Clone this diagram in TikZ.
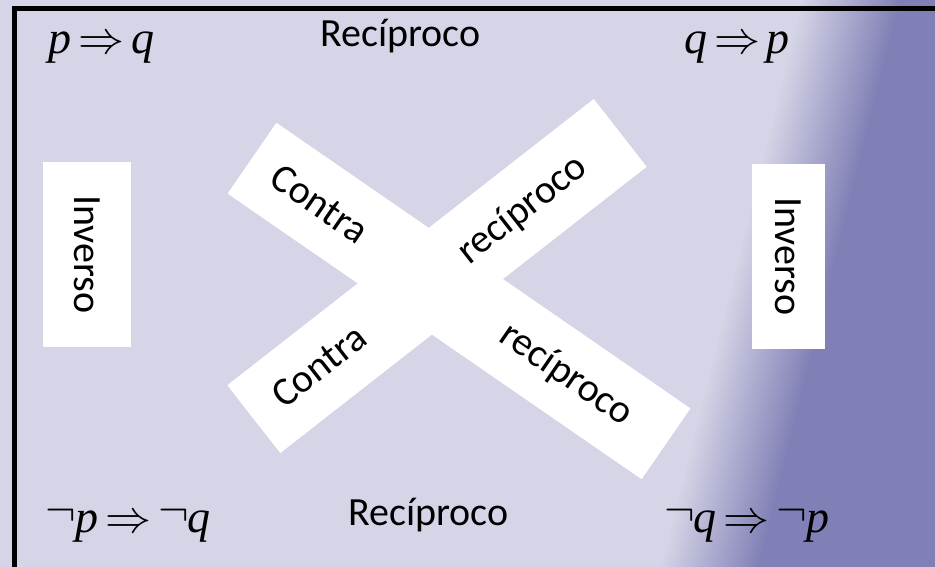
\RequirePackage{fix-cm}
\documentclass[tikz,border=0pt]{standalone}
\usepackage{fontspec}
\setmainfont{Carlito}
\newfontfamily\tms{Liberation Serif}

\definecolor{lav}{RGB}{213,213,231}
\definecolor{lavdark}{RGB}{199,199,223}
\definecolor{purp}{RGB}{129,128,182}

% soft diagonal sweep from lavender into purple
\pgfdeclarehorizontalshading{bgsweep}{100bp}{color(0bp)=(lav); color(49bp)=(lav); color(51bp)=(purp); color(100bp)=(purp)}

\newcommand\impl{\hspace{0.15em}$\Rightarrow$\hspace{0.15em}}
\newcommand\nt{\raisebox{7pt}{$\neg$}\kern-1pt}

\begin{document}
\begin{tikzpicture}[x=1pt,y=-1pt,
  whitebox/.style={fill=white, draw=none, inner sep=0pt},
  lbl/.style={font=\fontsize{40}{48}\selectfont, inner sep=0pt},
  formula/.style={font=\tms\itshape\fontsize{46}{50}\selectfont, inner sep=0pt, anchor=base}]
\useasboundingbox (0,0) rectangle (935,567);

% background
\fill[lav] (0,0) rectangle (935,567);
\begin{scope}
  \clip (0,0) rectangle (935,567);
  % faint clouds in the light area
  \shade[inner color=lavdark, outer color=lav] (30,300) ellipse (45 and 170);
  \shade[inner color=lavdark, outer color=lav] (160,110) ellipse (90 and 40);
  \shade[inner color=lavdark, outer color=lav] (520,470) ellipse (90 and 40);
  \begin{scope}[transform canvas={rotate around={-14:(780,283)}}]
    \shade[shading=bgsweep] (-420,-917) rectangle (1980,1483);
  \end{scope}
\end{scope}

% frame lines
\draw[line width=5pt] (14,575) -- (14,9) -- (945,9);

% the crossed bands
\node[whitebox, rotate=-34.6, minimum width=503pt, minimum height=86pt] (bandA) at (459,301) {};
\node[whitebox, rotate=38, minimum width=465pt, minimum height=86pt] (bandB) at (437,276) {};

\node[lbl, rotate=-34.6] (contraA) at (320,204) {Contra};
\node[lbl, rotate=38] (recipA) at (523,210) {recíproco};
\node[lbl, rotate=38] (contraB) at (319,366) {Contra};
\node[lbl, rotate=-34.6] (recipB) at (566,375) {recíproco};

% side boxes
\node[whitebox, lbl, rotate=-90, minimum width=185pt, minimum height=88pt] (invL) at (87,254.5) {Inverso};
\node[whitebox, lbl, rotate=-90, minimum width=185pt, minimum height=73pt] (invR) at (788.5,256.5) {Inverso};

% top and bottom labels
\node[lbl, anchor=base] (recTop) at (400.3,46.7) {Recíproco};
\node[lbl, anchor=base] (recBot) at (428.3,525) {Recíproco};

% implications
\node[formula] (pq) at (101.5,54) {p\impl q};
\node[formula] (qp) at (737,54) {q\impl p};
\node[formula] (npnq) at (128.3,532) {\nt p\impl\nt q};
\node[formula] (nqnp) at (746.8,532) {\nt q\impl\nt p};
\end{tikzpicture}
\end{document}
